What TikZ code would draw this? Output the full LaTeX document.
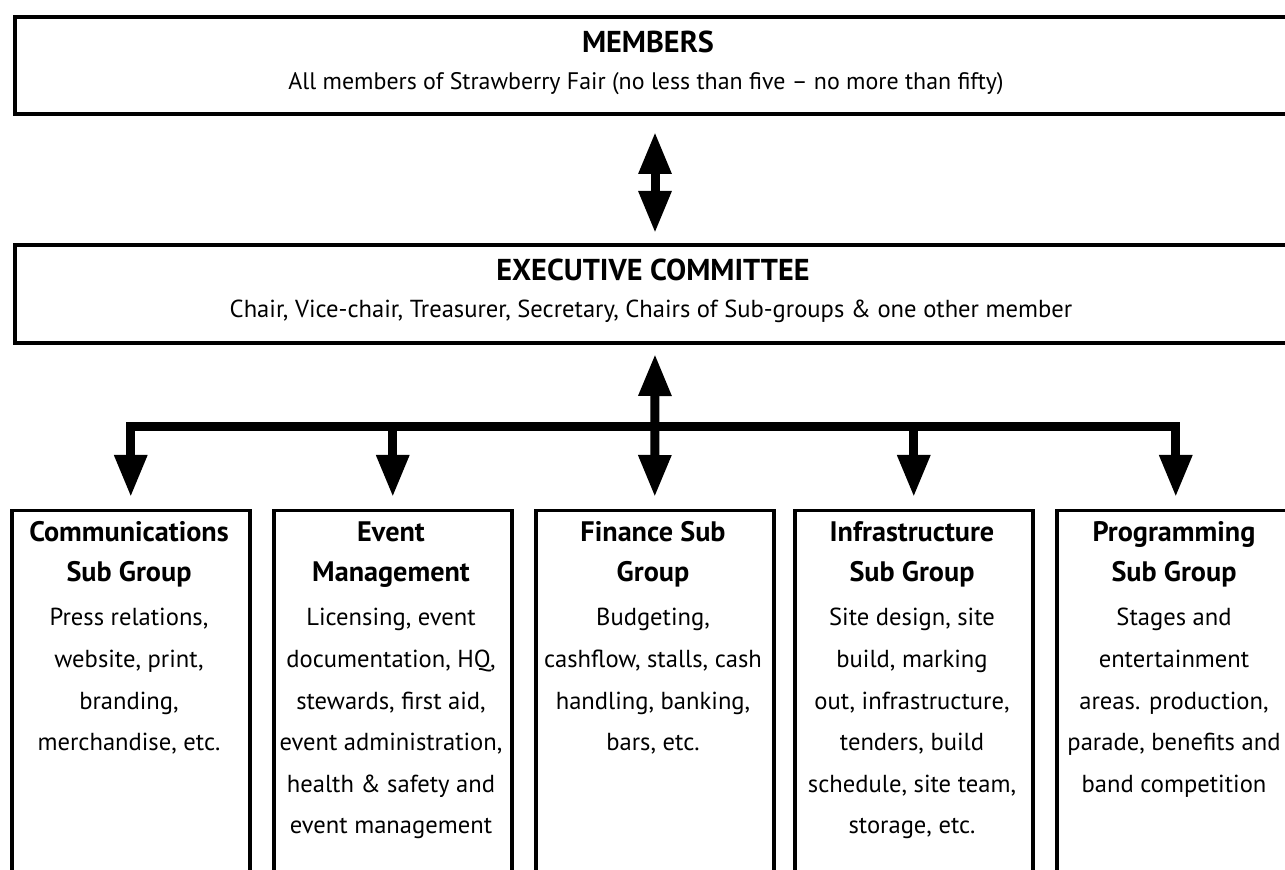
\documentclass[tikz,border=0pt]{standalone}
\usepackage{fontspec}
\setmainfont{PT Sans}
\usetikzlibrary{arrows.meta}
\begin{document}
\begin{tikzpicture}[x=0.5pt,y=-0.5pt,
  bigbox/.style={draw, line width=2pt, anchor=north west, inner sep=0pt, minimum width=640pt},
  subbox/.style={draw, line width=1.75pt, anchor=north west, inner sep=0pt, minimum width=119pt, minimum height=200pt},
  fat/.style={line width=4.5pt},
  tophd/.style={font=\fontsize{15.1}{17}\selectfont\bfseries, anchor=base, inner sep=0pt},
  hd/.style={font=\fontsize{14.1}{16}\selectfont\bfseries, anchor=base, inner sep=0pt},
  bd/.style={font=\fontsize{12.3}{14}\selectfont, anchor=base, inner sep=0pt},
  >={Triangle[width=15.5pt,length=21pt]}
]
\useasboundingbox (0,0) rectangle (1285,870);
\clip (0,0) rectangle (1285,870);

% top boxes
\node[bigbox, minimum height=48.5pt] (mem) at (13,15) {};
\node[bigbox, minimum height=49pt] (exe) at (13,243) {};
\node[tophd] (memh) at (648,53) {MEMBERS};
\node[bd, font=\fontsize{11.95}{14}\selectfont] (mems) at (646,90) {All members of Strawberry Fair (no less than five -- no more than fifty)};
\node[tophd] (exeh) at (653,281) {EXECUTIVE COMMITTEE};
\node[bd] (exes) at (651,318) {Chair, Vice-chair, Treasurer, Secretary, Chairs of Sub-groups \& one other member};

% sub group boxes
\node[subbox] (com) at (10,509) {};
\node[subbox] (eve) at (272,509) {};
\node[subbox] (fin) at (534,509) {};
\node[subbox] (inf) at (793,509) {};
\node[subbox] (prg) at (1055,509) {};

\foreach \n/\x/\ha/\hb in {com/129/Communications/Sub Group, eve/391/Event/Management, fin/653/Finance Sub/Group, inf/912/Infrastructure/Sub Group, prg/1174/Programming/Sub Group} {
  \node[hd] (\n-h1) at (\x,542) {\ha};
  \node[hd] (\n-h2) at (\x,582) {\hb};
}
\foreach \t [count=\i] in {{Press relations,},{website, print,},{branding,},{merchandise, etc.}}
  \node[bd] (com-b\i) at (129,{626+41.6*(\i-1)}) {\t};
\foreach \t [count=\i] in {{Licensing, event},{documentation, HQ,},{stewards, first aid,},{event administration,},{health \& safety and},{event management}}
  \node[bd] (eve-b\i) at (391,{626+41.6*(\i-1)}) {\t};
\foreach \t [count=\i] in {{Budgeting,},{cashflow, stalls, cash},{handling, banking,},{bars, etc.}}
  \node[bd] (fin-b\i) at (653,{626+41.6*(\i-1)}) {\t};
\foreach \t [count=\i] in {{Site design, site},{build, marking},{out, infrastructure,},{tenders, build},{schedule, site team,},{storage, etc.}}
  \node[bd] (inf-b\i) at (912,{626+41.6*(\i-1)}) {\t};
\foreach \t [count=\i] in {{Stages and},{entertainment},{areas. production,},{parade, benefits and},{band competition}}
  \node[bd] (prg-b\i) at (1174,{626+41.6*(\i-1)}) {\t};

% connectors
\draw[fat,<->,shorten <=8pt,shorten >=5pt] (mem.south) -- (exe.north);
\coordinate (hub) at (653,427);
\draw[fat,<->,shorten <=4.5pt,shorten >=6pt] (exe.south) -- (fin.north);
\foreach \n in {com,eve,inf,prg}
  \draw[fat,->,shorten >=6pt] (hub) -| (\n.north);
\end{tikzpicture}
\end{document}
